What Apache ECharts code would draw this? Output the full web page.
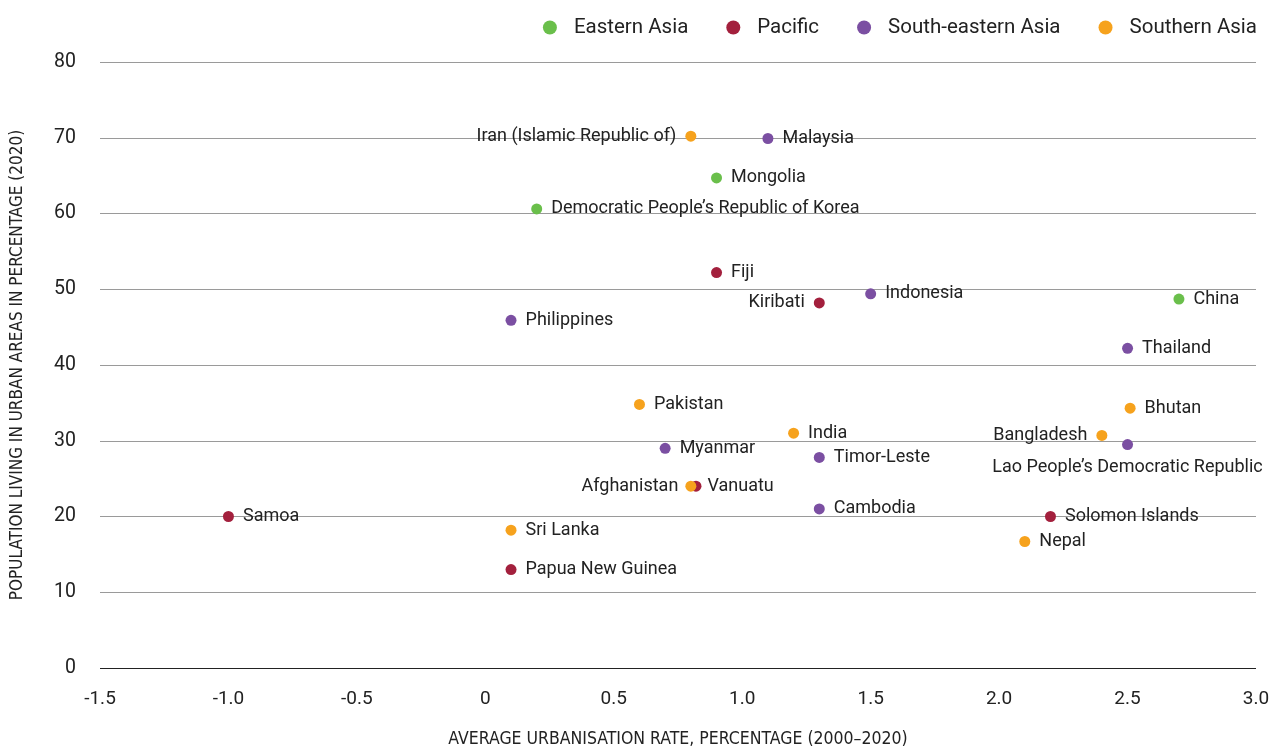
<!DOCTYPE html>
<html>
<head>
<meta charset="utf-8">
<script src="https://cdn.jsdelivr.net/npm/echarts@6/dist/echarts.min.js"></script>
<style>html,body{margin:0;padding:0;background:#fff}#c{width:1273px;height:749px}</style>
</head>
<body>
<div id="c"></div>
<script>
const regions = ['Eastern Asia', 'Pacific', 'South-eastern Asia', 'Southern Asia'];
const colors = ['#6abf4b', '#a3203d', '#7b4fa2', '#f6a21d'];

const easternNames = ['China', 'Mongolia', 'Democratic People\u2019s Republic of Korea'];
const easternX = [2.7, 0.9, 0.2];
const easternY = [48.7, 64.7, 60.6];

const pacificNames = ['Fiji', 'Kiribati', 'Samoa', 'Solomon Islands', 'Papua New Guinea', 'Vanuatu'];
const pacificX = [0.9, 1.3, -1.0, 2.2, 0.1, 0.82];
const pacificY = [52.2, 48.2, 20.0, 20.0, 13.0, 24.0];

const seNames = ['Malaysia', 'Indonesia', 'Philippines', 'Thailand', 'Myanmar', 'Timor-Leste', 'Cambodia', 'Lao People\u2019s Democratic Republic'];
const seX = [1.1, 1.5, 0.1, 2.5, 0.7, 1.3, 1.3, 2.5];
const seY = [69.9, 49.4, 45.9, 42.2, 29.0, 27.8, 21.0, 29.5];

const sNames = ['Iran (Islamic Republic of)', 'Pakistan', 'India', 'Bhutan', 'Bangladesh', 'Afghanistan', 'Sri Lanka', 'Nepal'];
const sX = [0.8, 0.6, 1.2, 2.51, 2.4, 0.8, 0.1, 2.1];
const sY = [70.2, 34.8, 31.0, 34.3, 30.7, 24.0, 18.2, 16.7];

const leftLabels = ['Iran (Islamic Republic of)', 'Kiribati', 'Bangladesh', 'Afghanistan'];
const bottomLabels = ['Lao People\u2019s Democratic Republic'];

const xTicks = [-1.5, -1.0, -0.5, 0, 0.5, 1.0, 1.5, 2.0, 2.5, 3.0];
const yTicks = [0, 10, 20, 30, 40, 50, 60, 70, 80];

function build(names, xs, ys) {
  return names.map((n, i) => {
    let pos = 'right';
    if (leftLabels.includes(n)) pos = 'left';
    if (bottomLabels.includes(n)) pos = 'bottom';
    const item = { name: n, value: [xs[i], ys[i]], label: { position: pos } };
    if (pos === 'bottom') { item.label.distance = 8; item.label.align = 'center'; item.label.offset = [0, 5]; }
    if (n === 'Vanuatu') item.label.distance = 6;
    if (n === 'Afghanistan') item.label.distance = 7;
    return item;
  });
}

const groups = [
  build(easternNames, easternX, easternY),
  build(pacificNames, pacificX, pacificY),
  build(seNames, seX, seY),
  build(sNames, sX, sY)
];

const font = 'Roboto, "Liberation Sans", Arial, sans-serif';
const narrow = '"Liberation Sans Narrow", "DejaVu Sans Condensed", sans-serif';
const chart = echarts.init(document.getElementById('c'), null, { renderer: 'canvas' });
chart.setOption({
  animation: false,
  textStyle: { fontFamily: font },
  legend: {
    data: regions.map(r => ({ name: r, icon: 'circle' })),
    right: 11, top: 12,
    itemWidth: 14, itemHeight: 14, itemGap: 38,
    textStyle: { fontSize: 20.5, color: '#222', fontFamily: font, padding: [0, 0, 0, 12] }
  },
  grid: { left: 100, right: 17, top: 62, bottom: 81, containLabel: false, outerBoundsMode: 'none' },
  xAxis: {
    type: 'value', min: -1.5, max: 3.0, interval: 0.5,
    name: 'AVERAGE URBANISATION RATE, PERCENTAGE (2000\u20132020)',
    nameLocation: 'middle', nameGap: 62,
    nameTextStyle: { fontFamily: narrow, fontSize: 17.5, color: '#222' },
    axisLine: { show: false }, axisTick: { show: false }, splitLine: { show: false },
    axisLabel: {
      margin: 22, fontSize: 19, color: '#222', fontFamily: font,
      formatter: v => { const t = xTicks.find(x => Math.abs(x - v) < 1e-9); return t === 0 ? '0' : t.toFixed(1); }
    }
  },
  yAxis: {
    type: 'value', min: 0, max: 80, interval: 10,
    name: 'POPULATION LIVING IN URBAN AREAS IN PERCENTAGE (2020)',
    nameLocation: 'middle', nameGap: 74,
    nameTextStyle: { fontFamily: narrow, fontSize: 17, color: '#222' },
    axisLine: { show: false }, axisTick: { show: false },
    splitLine: { show: true, lineStyle: { color: '#9a9a9a', width: 1 } },
    axisLabel: { margin: 24, fontSize: 19.5, color: '#222', fontFamily: font,
      formatter: v => String(yTicks.find(t => t === v)) }
  },
  series: regions.map((r, i) => ({
    name: r, type: 'scatter', symbol: 'circle', symbolSize: 11,
    itemStyle: { color: colors[i], opacity: 1 },
    label: { show: true, formatter: '{b}', fontSize: 18, color: '#222', distance: 9, fontFamily: font },
    labelLayout: { hideOverlap: false },
    data: groups[i],
    markLine: i === 0 ? {
      silent: true, symbol: 'none', label: { show: false },
      lineStyle: { color: '#222', type: 'solid', width: 1.2 },
      data: [{ yAxis: 0 }]
    } : undefined
  }))
});
</script>
</body>
</html>
